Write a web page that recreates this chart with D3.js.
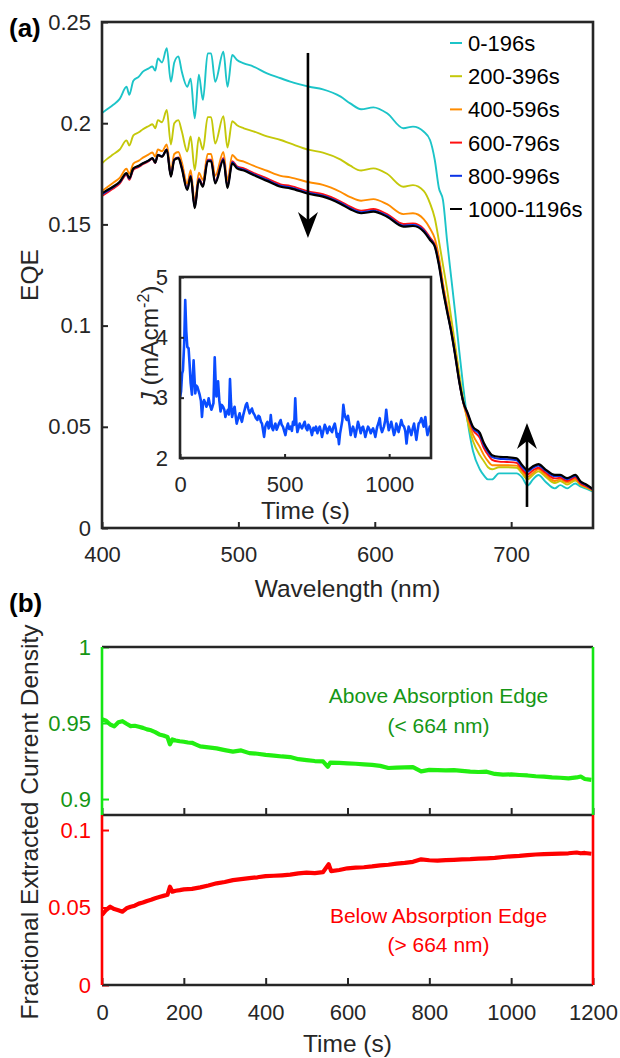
<!DOCTYPE html>
<html><head><meta charset="utf-8">
<script src="https://cdn.jsdelivr.net/npm/d3@7"></script>
<style>
body{margin:0;background:#fff}
svg{display:block}
text{font-family:"Liberation Sans",Arial,Helvetica,sans-serif}
</style>
</head><body>
<svg id="c" width="620" height="1058"></svg>
<script>
// ---------- Panel (a): EQE spectra ----------
const wavelengths = [400,404,408,413,418,420,423,427,430,434,437,439,441,444,447.5,450.5,453,456,458.5,462.5,465,468,471,474,477.5,480,483,489,492,495.5,499,504,511,521,531,538,552,562,575,582,590,599,609,621,628,636,640.5,644,647,650,653,656,659,662,665,668,672,677,680,683,686,691,697,704,708,712,716,720,725,732,736,741,747,751,755,760];
const seriesNames = ["0-196s","200-396s","400-596s","600-796s","800-996s","1000-1196s"];
const seriesColors = ["#1cc4c8","#c4c80a","#ff8c00","#ff1010","#0a32e6","#000000"];
const eqe0 = [0.205,0.207,0.209,0.212,0.218,0.214,0.221,0.223,0.2255,0.227,0.228,0.226,0.232,0.230,0.237,0.2205,0.230,0.233,0.2255,0.218,0.222,0.2024,0.224,0.2115,0.2345,0.2345,0.2205,0.2353,0.218,0.2337,0.2312,0.2296,0.228,0.2246,0.2222,0.2205,0.218,0.2167,0.2131,0.2098,0.2069,0.2078,0.2049,0.1975,0.1983,0.1958,0.1917,0.1818,0.168,0.162,0.142,0.124,0.106,0.087,0.069,0.053,0.038,0.029,0.026,0.024,0.024,0.027,0.027,0.027,0.025,0.021,0.024,0.0262,0.023,0.0196,0.0212,0.0196,0.022,0.0204,0.0195,0.018];
const eqe1 = [0.1802,0.1825,0.1845,0.1870,0.1915,0.1890,0.1940,0.1955,0.1970,0.1985,0.1995,0.1975,0.2015,0.2005,0.2065,0.1895,0.2000,0.2015,0.1960,0.1860,0.1935,0.1769,0.1930,0.1870,0.2030,0.2030,0.1900,0.2035,0.1880,0.2010,0.1990,0.1975,0.1960,0.1935,0.1917,0.1900,0.1868,0.1855,0.1820,0.1790,0.1766,0.1777,0.1750,0.1686,0.1694,0.1664,0.1604,0.1530,0.1420,0.1300,0.1180,0.1040,0.0900,0.0760,0.0630,0.0530,0.0430,0.0360,0.0330,0.0300,0.0290,0.0300,0.0300,0.0298,0.0270,0.0240,0.0262,0.0280,0.0255,0.0222,0.0232,0.0215,0.0235,0.0212,0.0200,0.0185];
const eqe2 = [0.1665,0.1685,0.1705,0.1730,0.1775,0.1750,0.1800,0.1815,0.1830,0.1845,0.1855,0.1835,0.1870,0.1862,0.1895,0.1765,0.1848,0.1858,0.1808,0.1700,0.1768,0.1612,0.1755,0.1720,0.1848,0.1848,0.1740,0.1858,0.1718,0.1843,0.1820,0.1810,0.1790,0.1765,0.1740,0.1732,0.1708,0.1695,0.1660,0.1635,0.1617,0.1625,0.1600,0.1551,0.1555,0.1525,0.1480,0.1430,0.1340,0.1210,0.1100,0.0990,0.0865,0.0730,0.0615,0.0545,0.0460,0.0400,0.0360,0.0330,0.0310,0.0310,0.0310,0.0308,0.0280,0.0252,0.0272,0.0290,0.0265,0.0232,0.0240,0.0225,0.0242,0.0215,0.0203,0.0186];
const eqe3 = [0.1640,0.1658,0.1676,0.1702,0.1745,0.1720,0.1770,0.1784,0.1797,0.1811,0.1824,0.1803,0.1842,0.1835,0.1870,0.1740,0.1822,0.1831,0.1782,0.1676,0.1742,0.1588,0.1728,0.1694,0.1820,0.1820,0.1712,0.1828,0.1689,0.1812,0.1787,0.1777,0.1755,0.1727,0.1698,0.1690,0.1662,0.1649,0.1613,0.1588,0.1568,0.1576,0.1551,0.1502,0.1505,0.1477,0.1435,0.1400,0.1310,0.1185,0.1078,0.0975,0.0855,0.0722,0.0618,0.0560,0.0485,0.0445,0.0395,0.0362,0.0337,0.0328,0.0326,0.0322,0.0290,0.0265,0.0285,0.0298,0.0274,0.0245,0.0248,0.0232,0.0250,0.0220,0.0207,0.0188];
const eqe4 = [0.1648,0.1665,0.1682,0.1708,0.1750,0.1725,0.1774,0.1788,0.1801,0.1814,0.1827,0.1805,0.1844,0.1836,0.1870,0.1739,0.1821,0.1830,0.1780,0.1673,0.1739,0.1584,0.1724,0.1690,0.1816,0.1816,0.1707,0.1823,0.1684,0.1807,0.1782,0.1771,0.1749,0.1720,0.1691,0.1683,0.1655,0.1642,0.1606,0.1580,0.1560,0.1568,0.1543,0.1494,0.1497,0.1469,0.1428,0.1394,0.1304,0.1179,0.1073,0.0972,0.0852,0.0721,0.0620,0.0566,0.0494,0.0460,0.0410,0.0376,0.0350,0.0342,0.0340,0.0335,0.0302,0.0278,0.0297,0.0309,0.0284,0.0256,0.0257,0.0241,0.0258,0.0226,0.0212,0.0190];
const eqe5 = [0.1654,0.1670,0.1686,0.1711,0.1753,0.1728,0.1777,0.1790,0.1802,0.1815,0.1827,0.1805,0.1843,0.1835,0.1868,0.1736,0.1818,0.1827,0.1777,0.1670,0.1736,0.1580,0.1720,0.1686,0.1812,0.1812,0.1703,0.1818,0.1679,0.1802,0.1777,0.1766,0.1744,0.1715,0.1686,0.1678,0.1650,0.1637,0.1601,0.1575,0.1555,0.1563,0.1538,0.1489,0.1492,0.1464,0.1423,0.1390,0.1300,0.1176,0.1070,0.0970,0.0850,0.0720,0.0620,0.0570,0.0500,0.0470,0.0420,0.0385,0.0360,0.0352,0.0350,0.0344,0.0311,0.0287,0.0305,0.0316,0.0290,0.0262,0.0262,0.0246,0.0262,0.0229,0.0215,0.0192];
const eqeTicksX = [400,500,600,700];
const eqeTicksY = [0,0.05,0.1,0.15,0.2,0.25];
const arrowDown = {x:551, from:0.2347, to:0.1433};
const arrowUp = {x:711.6, from:0.0104, to:0.0519};

// ---------- Inset: J vs time ----------
const insetTime = [0,5,10,14,20,25,30,35,41,46,51,57,65,73,78,83,88,94,100,105,110,115,120,126,132,137,143,150,155,160,166,170,174,178,182,188,194,200,206,212,217,223,229,234,239,244,249,255,261,266,271,278,285,290,296,303,309,315,320,326,333,338,344,350,357,363,370,375,381,387,392,402,408,413,418,424,430,434,440,445,450,456,462,468,474,481,486,492,498,504,510,516,522,529,535,540,546,551,556,561,567,572,578,583,590,596,602,609,614,620,626,631,638,644,650,657,662,668,674,679,686,692,698,704,710,715,721,727,734,740,745,750,755,760,765,771,776,781,786,790,797,803,810,816,821,827,833,838,845,851,857,864,870,875,880,886,893,899,905,912,918,923,929,934,939,943,949,955,960,966,971,975,981,986,992,998,1004,1010,1016,1023,1029,1034,1040,1045,1051,1058,1064,1071,1077,1083,1088,1093,1100,1106,1112,1119,1124,1130,1136,1141,1148,1154,1160,1165,1169,1173,1178,1183,1189,1194,1197];
const insetJ = [3.0,3.10,3.40,3.45,3.90,4.62,4.10,3.84,3.82,3.55,3.24,3.05,3.62,3.07,3.20,3.18,3.12,3.05,2.95,2.68,2.90,2.96,2.92,2.85,2.90,2.99,2.88,2.80,2.85,2.91,3.67,3.30,3.02,3.10,3.27,2.95,2.77,2.88,2.85,2.80,2.68,2.75,2.80,2.72,3.31,2.90,2.68,2.78,2.85,2.70,2.57,2.66,2.74,2.66,2.60,2.72,2.80,2.88,2.91,2.82,2.74,2.78,2.82,2.75,2.71,2.66,2.63,2.70,2.68,2.60,2.57,2.35,2.52,2.57,2.60,2.49,2.55,2.71,2.50,2.46,2.52,2.57,2.47,2.52,2.58,2.63,2.55,2.52,2.45,2.38,2.50,2.57,2.48,2.52,2.45,2.60,2.55,2.99,2.60,2.43,2.50,2.57,2.52,2.49,2.55,2.60,2.50,2.46,2.55,2.52,2.45,2.38,2.50,2.46,2.52,2.41,2.48,2.52,2.44,2.35,2.46,2.55,2.50,2.41,2.48,2.52,2.46,2.43,2.52,2.57,2.48,2.35,2.40,2.23,2.40,2.52,2.62,2.88,2.75,2.68,2.63,2.70,2.55,2.38,2.45,2.52,2.45,2.35,2.48,2.60,2.52,2.41,2.50,2.52,2.45,2.35,2.45,2.52,2.48,2.41,2.46,2.49,2.42,2.35,2.45,2.52,2.58,2.66,2.50,2.43,2.48,2.52,2.62,2.80,2.60,2.46,2.52,2.60,2.50,2.38,2.45,2.57,2.50,2.43,2.52,2.63,2.55,2.52,2.45,2.24,2.40,2.52,2.45,2.38,2.48,2.57,2.45,2.30,2.45,2.57,2.60,2.66,2.58,2.52,2.62,2.68,2.50,2.38,2.45,2.52,2.45];
const insetTicksX = [0,500,1000];
const insetTicksY = [2,3,4,5];

// ---------- Panel (b): fractional current density ----------
const fracTimeAbove = [0,10,20,30,40,50,60,70,80,90,100,110,120,130,140,150,160,166,172,180,190,200,210,220,230,240,260,280,300,320,340,360,380,400,420,440,460,480,500,520,540,552,558,580,600,620,640,660,680,700,720,740,760,780,800,820,840,860,880,900,920,940,960,980,1000,1020,1040,1060,1080,1100,1120,1140,1160,1170,1180,1196];
const fracAbove = [0.9525,0.9515,0.9490,0.9478,0.9505,0.9512,0.9495,0.9480,0.9482,0.9475,0.9468,0.9458,0.9452,0.9440,0.9425,0.9418,0.9408,0.9360,0.9392,0.9385,0.9380,0.9377,0.9372,0.9370,0.9358,0.9346,0.9340,0.9333,0.9322,0.9312,0.9320,0.9302,0.9298,0.9290,0.9286,0.9280,0.9276,0.9262,0.9256,0.9250,0.9248,0.9212,0.9240,0.9238,0.9235,0.9232,0.9228,0.9225,0.9218,0.9204,0.9207,0.9208,0.9210,0.9182,0.9192,0.9190,0.9188,0.9190,0.9185,0.9180,0.9178,0.9180,0.9165,0.9160,0.9162,0.9158,0.9155,0.9150,0.9148,0.9143,0.9140,0.9136,0.9142,0.9148,0.9132,0.9126];
const fracTimeBelow = [0,10,20,30,40,50,60,70,80,90,100,110,120,130,140,150,160,166,172,180,190,200,220,240,260,280,300,320,340,360,380,400,420,440,460,480,500,520,540,554,560,580,600,620,640,660,680,700,720,740,760,780,800,820,840,860,880,900,920,940,960,980,1000,1020,1040,1060,1080,1100,1120,1140,1160,1170,1180,1196];
const fracBelow = [0.0452,0.0484,0.0505,0.0490,0.0482,0.0473,0.0495,0.0505,0.0512,0.0525,0.0532,0.0542,0.0550,0.0560,0.0568,0.0575,0.0582,0.0634,0.0602,0.0608,0.0612,0.0617,0.0620,0.0630,0.0642,0.0656,0.0665,0.0677,0.0683,0.0690,0.0695,0.0703,0.0705,0.0708,0.0712,0.0720,0.0725,0.0722,0.0728,0.0780,0.0735,0.0742,0.0753,0.0757,0.0760,0.0765,0.0772,0.0776,0.0783,0.0788,0.0795,0.0811,0.0805,0.0802,0.0806,0.0808,0.0811,0.0812,0.0815,0.0817,0.0820,0.0826,0.0830,0.0833,0.0838,0.0842,0.0845,0.0846,0.0848,0.0850,0.0855,0.0850,0.0852,0.0847];
const fracTicksX = [0,200,400,600,800,1000,1200];
const aboveTicksY = [0.9,0.95,1];
const belowTicksY = [0,0.05,0.1];

// ---------- drawing ----------
const svg = d3.select("#c");
const AX = "#262626";
const fmt = d => String(+(+d).toFixed(4));
const TF = 22, LF = 24.5;

function styleAxis(g, size, color){
  g.attr("font-size", size).attr("font-family", '"Liberation Sans",Arial,sans-serif');
  g.select(".domain").remove();
  g.selectAll("text").style("fill", color);
}
function clip(id, x, y, w, h){
  svg.append("clipPath").attr("id", id).append("rect").attr("x", x).attr("y", y).attr("width", w).attr("height", h);
}
function label(t){ return svg.append("text").style("fill", AX); }

// Panel a
const ax = {l:102, r:593, t:22, b:528};
const xA = d3.scaleLinear().domain([400,760]).range([ax.l, ax.r]);
const yA = d3.scaleLinear().domain([0,0.25]).range([ax.b, ax.t]);
clip("clipA", ax.l, ax.t, ax.r-ax.l, ax.b-ax.t);
const allEqe = [eqe0, eqe1, eqe2, eqe3, eqe4, eqe5];
const lineA = d3.line().x((d,i)=>xA(wavelengths[i])).y(d=>yA(d)).curve(d3.curveMonotoneX);
const gA = svg.append("g").attr("clip-path","url(#clipA)");
allEqe.forEach((s,k)=>{
  gA.append("path").datum(s).attr("d", lineA).attr("fill","none")
    .attr("stroke", seriesColors[k]).attr("stroke-width", k===5 ? 2.2 : 1.9).attr("stroke-linejoin","round");
});
svg.append("g").attr("transform",`translate(0,${ax.b})`)
  .call(d3.axisBottom(xA).tickValues(eqeTicksX).tickSize(-6).tickPadding(18).tickFormat(fmt))
  .call(g=>styleAxis(g,TF,AX)).call(g=>g.selectAll("line").attr("stroke",AX).attr("stroke-width",2));
svg.append("g").attr("transform",`translate(${ax.l},0)`)
  .call(d3.axisLeft(yA).tickValues(eqeTicksY).tickSize(-6).tickPadding(11).tickFormat(fmt))
  .call(g=>styleAxis(g,TF,AX)).call(g=>g.selectAll("line").attr("stroke",AX).attr("stroke-width",2));
svg.append("rect").attr("x",ax.l).attr("y",ax.t).attr("width",ax.r-ax.l).attr("height",ax.b-ax.t)
  .attr("fill","none").attr("stroke",AX).attr("stroke-width",2.6);

// arrows
function arrow(xv, y0, y1, up){
  const x = xA(xv), ya = yA(y0), yb = yA(y1);
  const dir = up ? 1 : -1;
  const back = yb + dir*26, notch = yb + dir*18;
  svg.append("line").attr("x1",x).attr("x2",x).attr("y1",ya).attr("y2",notch)
    .attr("stroke","#000").attr("stroke-width",2.6);
  svg.append("path").attr("d",`M${x},${yb}L${x-10},${back}L${x},${notch}L${x+10},${back}Z`).attr("fill","#000");
}
arrow(arrowDown.x, arrowDown.from, arrowDown.to, false);
arrow(arrowUp.x, arrowUp.from, arrowUp.to, true);

// legend
const legY0 = 43, legDY = 33.2;
seriesNames.forEach((n,k)=>{
  const y = legY0 + k*legDY;
  svg.append("line").attr("x1",450).attr("x2",462).attr("y1",y).attr("y2",y)
    .attr("stroke",seriesColors[k]).attr("stroke-width",2);
  svg.append("text").attr("x",468).attr("y",y+8).attr("font-size",TF).style("fill","#000").text(n);
});

label().attr("x",347.5).attr("y",597).attr("text-anchor","middle").attr("font-size",LF).text("Wavelength (nm)");
label().attr("transform","translate(38,275) rotate(-90)").attr("text-anchor","middle").attr("font-size",LF).text("EQE");
svg.append("text").attr("x",9).attr("y",37).attr("font-size",26).attr("font-weight","bold").style("fill","#000").text("(a)");

// inset
const ins = {l:180, r:431, t:277, b:458};
const xI = d3.scaleLinear().domain([0,1200]).range([ins.l, ins.r]);
const yI = d3.scaleLinear().domain([2,5]).range([ins.b, ins.t]);
svg.append("rect").attr("x",ins.l).attr("y",ins.t).attr("width",ins.r-ins.l).attr("height",ins.b-ins.t).attr("fill","#fff");
clip("clipI", ins.l, ins.t, ins.r-ins.l, ins.b-ins.t);
svg.append("g").attr("clip-path","url(#clipI)").append("path").datum(insetJ)
  .attr("d", d3.line().x((d,i)=>xI(insetTime[i])).y(d=>yI(d)))
  .attr("fill","none").attr("stroke","#0a4cff").attr("stroke-width",2.6).attr("stroke-linejoin","round");
svg.append("g").attr("transform",`translate(0,${ins.b})`)
  .call(d3.axisBottom(xI).tickValues(insetTicksX).tickSize(-4).tickPadding(18).tickFormat(fmt))
  .call(g=>styleAxis(g,TF,AX)).call(g=>g.selectAll("line").attr("stroke",AX).attr("stroke-width",2));
svg.append("g").attr("transform",`translate(${ins.l},0)`)
  .call(d3.axisLeft(yI).tickValues(insetTicksY).tickSize(-4).tickPadding(12).tickFormat(fmt))
  .call(g=>styleAxis(g,TF,AX)).call(g=>g.selectAll("line").attr("stroke",AX).attr("stroke-width",2));
svg.append("rect").attr("x",ins.l).attr("y",ins.t).attr("width",ins.r-ins.l).attr("height",ins.b-ins.t)
  .attr("fill","none").attr("stroke",AX).attr("stroke-width",2.6);
label().attr("x",(ins.l+ins.r)/2).attr("y",519).attr("text-anchor","middle").attr("font-size",LF).text("Time (s)");
const jl = label().attr("transform","translate(158,345) rotate(-90)").attr("text-anchor","middle").attr("font-size",LF);
jl.append("tspan").attr("font-style","italic").text("J");
jl.append("tspan").text(" (mAcm");
jl.append("tspan").attr("font-size",16).attr("dy",-9).text("-2");
jl.append("tspan").attr("dy",9).text(")");

// Panel b
const bx = {l:102, r:593, t:647, m:815, b:985};
const GREEN = "#14e614", GREEN_T = "#159615", RED = "#ff0000";
const xB = d3.scaleLinear().domain([0,1200]).range([bx.l, bx.r]);
const yU = d3.scaleLinear().domain([0.8895,1]).range([bx.m, bx.t]);
const yL = d3.scaleLinear().domain([0,0.1097]).range([bx.b, bx.m]);
clip("clipU", bx.l, bx.t, bx.r-bx.l, bx.m-bx.t);
clip("clipL", bx.l, bx.m, bx.r-bx.l, bx.b-bx.m);
svg.append("g").attr("clip-path","url(#clipU)").append("path").datum(fracAbove)
  .attr("d", d3.line().x((d,i)=>xB(fracTimeAbove[i])).y(d=>yU(d)))
  .attr("fill","none").attr("stroke","#22ee11").attr("stroke-width",4.2).attr("stroke-linejoin","round");
svg.append("g").attr("clip-path","url(#clipL)").append("path").datum(fracBelow)
  .attr("d", d3.line().x((d,i)=>xB(fracTimeBelow[i])).y(d=>yL(d)))
  .attr("fill","none").attr("stroke",RED).attr("stroke-width",4.2).attr("stroke-linejoin","round");

[bx.b, bx.m].forEach((yy, k)=>{
  const g = svg.append("g").attr("transform",`translate(0,${yy})`)
    .call(d3.axisBottom(xB).tickValues(fracTicksX).tickSize(-7).tickPadding(19).tickFormat(fmt))
    .call(g=>styleAxis(g,TF,AX)).call(g=>g.selectAll("line").attr("stroke",AX).attr("stroke-width",2));
  if(k===1) g.selectAll("text").remove();
});
svg.append("g").attr("transform",`translate(${bx.l},0)`)
  .call(d3.axisLeft(yU).tickValues(aboveTicksY).tickSize(-7).tickPadding(11).tickFormat(fmt))
  .call(g=>styleAxis(g,TF,GREEN_T)).call(g=>g.selectAll("line").attr("stroke",GREEN).attr("stroke-width",2));
svg.append("g").attr("transform",`translate(${bx.l},0)`)
  .call(d3.axisLeft(yL).tickValues(belowTicksY).tickSize(-7).tickPadding(11).tickFormat(fmt))
  .call(g=>styleAxis(g,TF,RED)).call(g=>g.selectAll("line").attr("stroke",RED).attr("stroke-width",2));
[bx.t,bx.m,bx.b].forEach(yy=>{
  svg.append("line").attr("x1",bx.l).attr("x2",bx.r).attr("y1",yy).attr("y2",yy).attr("stroke",AX).attr("stroke-width",2.6);
});
[bx.l,bx.r].forEach(xx=>{
  svg.append("line").attr("x1",xx).attr("x2",xx).attr("y1",bx.t).attr("y2",bx.m).attr("stroke",GREEN).attr("stroke-width",2.6);
  svg.append("line").attr("x1",xx).attr("x2",xx).attr("y1",bx.m).attr("y2",bx.b).attr("stroke",RED).attr("stroke-width",2.6);
});
svg.append("text").attr("x",438.5).attr("y",703).attr("text-anchor","middle").attr("font-size",21).style("fill",GREEN_T).text("Above Absorption Edge");
svg.append("text").attr("x",438.5).attr("y",733).attr("text-anchor","middle").attr("font-size",21).style("fill",GREEN_T).text("(< 664 nm)");
svg.append("text").attr("x",438.5).attr("y",923).attr("text-anchor","middle").attr("font-size",21).style("fill",RED).text("Below Absorption Edge");
svg.append("text").attr("x",438.5).attr("y",952).attr("text-anchor","middle").attr("font-size",21).style("fill",RED).text("(> 664 nm)");
label().attr("x",347.5).attr("y",1052).attr("text-anchor","middle").attr("font-size",LF).text("Time (s)");
label().attr("transform","translate(38,822) rotate(-90)").attr("text-anchor","middle").attr("font-size",LF).text("Fractional Extracted Current Density");
svg.append("text").attr("x",9).attr("y",612).attr("font-size",26).attr("font-weight","bold").style("fill","#000").text("(b)");
</script>
</body></html>
